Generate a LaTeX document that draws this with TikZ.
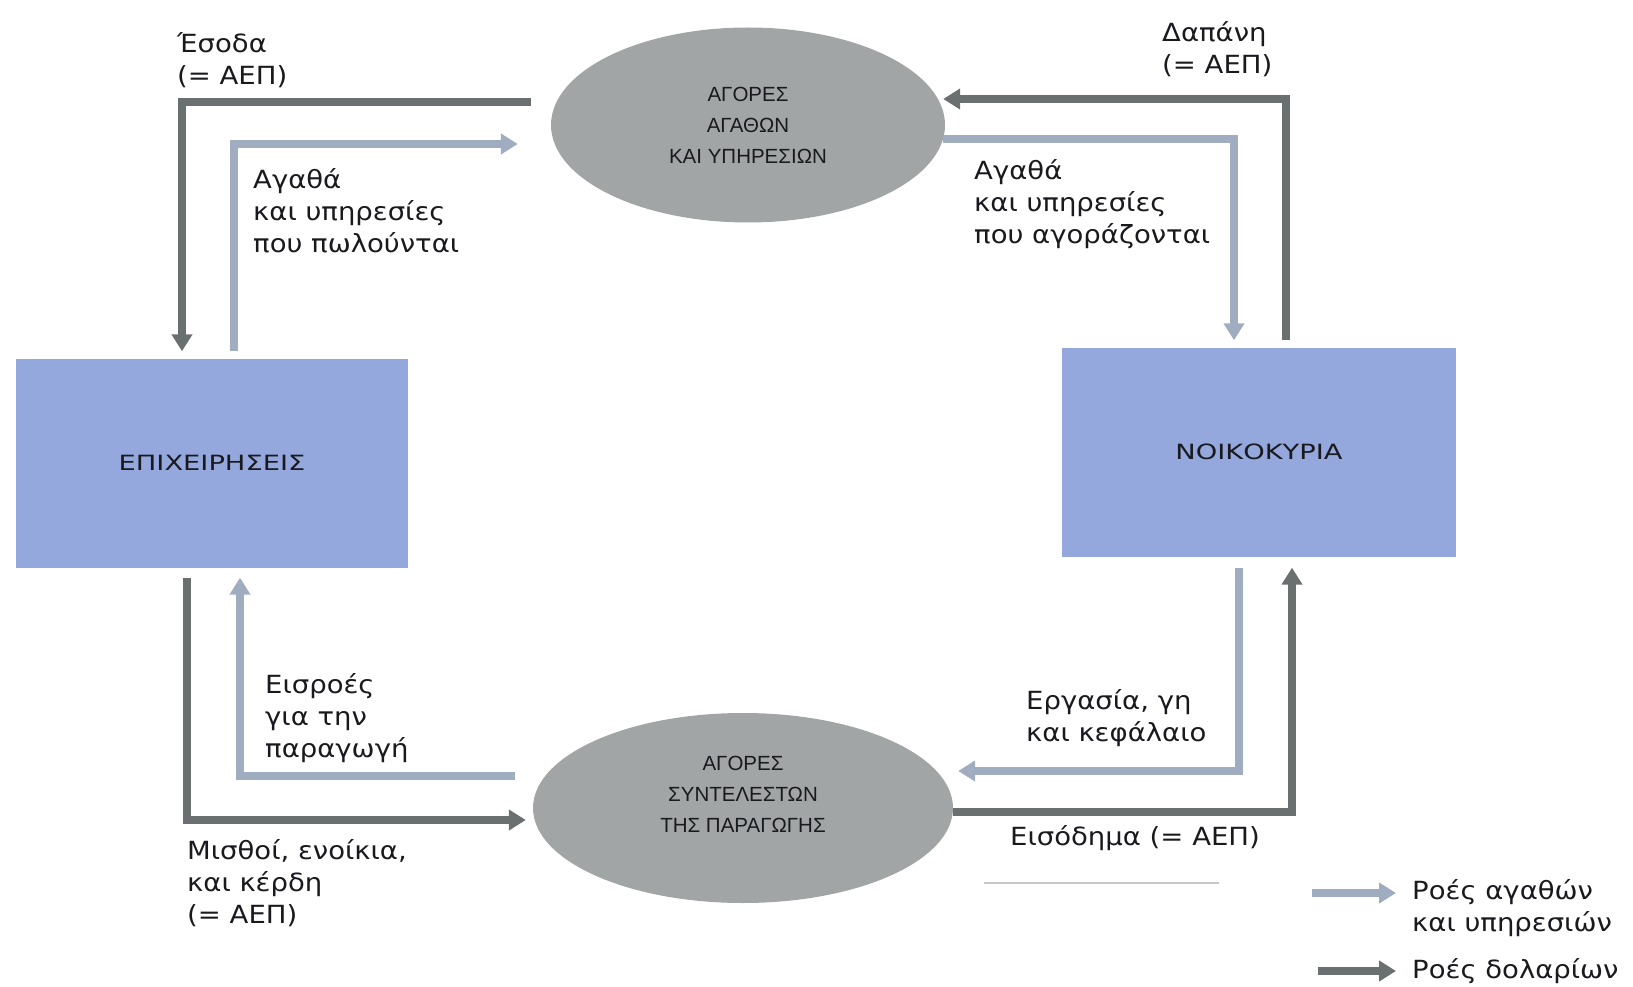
\documentclass[tikz,border=0pt]{standalone}
\usepackage{fontspec}
\setmainfont{DejaVu Sans}[FakeStretch=1.1]
\newfontfamily\capsfont{Liberation Sans}
\newfontfamily\widefont{DejaVu Sans}[FakeStretch=1.3]
\usepackage{xcolor}
\usetikzlibrary{shapes,shapes.geometric}
\usetikzlibrary{arrows.meta}
\usetikzlibrary{positioning}
\definecolor{boxblue}{RGB}{148,168,221}
\definecolor{marketgray}{RGB}{162,165,165}
\definecolor{dollargray}{RGB}{106,111,111}
\definecolor{goodsgray}{RGB}{160,172,192}
\definecolor{inktext}{RGB}{25,25,30}

\begin{document}
\begin{tikzpicture}[x=1pt,y=-1pt]
\tikzset{sector/.style={rectangle,fill=boxblue,minimum width=392pt,minimum height=209pt,font=\widefont\fontsize{21}{24}\selectfont,text=inktext},
market/.style={ellipse,fill=marketgray,minimum width=394pt,minimum height=195pt,align=center,font=\capsfont\fontsize{20.5}{31}\selectfont,text=inktext},
flowlabel/.style={align=left,anchor=west,inner sep=0pt,font=\fontsize{25}{32}\selectfont,text=inktext},
dollarflow/.style={draw=dollargray,line width=8pt,-{Triangle[width=20pt,length=17pt]}},
goodsflow/.style={draw=goodsgray,line width=8pt,-{Triangle[width=20pt,length=17pt]}}}
\useasboundingbox (0,0) rectangle (1633,987);
\node[sector](firms) at (212,463){ΕΠΙΧΕΙΡΗΣΕΙΣ};
\node[sector,minimum width=394pt](homes) at (1259,452){ΝΟΙΚΟΚΥΡΙΑ};
\node[market](goods) at (748,125){ΑΓΟΡΕΣ\\ΑΓΑΘΩΝ\\ΚΑΙ ΥΠΗΡΕΣΙΩΝ};
\node[market,minimum width=420pt,minimum height=190pt](factors) at (743,808){};
\node[market,fill=none,inner sep=0pt](factorsname) at ([yshift=14pt]factors.center){ΑΓΟΡΕΣ\\ΣΥΝΤΕΛΕΣΤΩΝ\\ΤΗΣ ΠΑΡΑΓΩΓΗΣ};
\draw[dollarflow]([yshift=23pt,xshift=-20pt]goods.west) -| ([xshift=-30pt,yshift=7pt]firms.north);
\draw[goodsflow]([xshift=22pt,yshift=7pt]firms.north) |- ([yshift=-19pt,xshift=-33pt]goods.west);
\draw[dollarflow]([xshift=27pt,yshift=7pt]homes.north) |- ([yshift=26pt,xshift=-2pt]goods.east);
\draw[goodsflow]([yshift=-14pt,xshift=-2pt]goods.east) -| ([xshift=-25pt,yshift=7pt]homes.north);
\draw[goodsflow]([xshift=-20pt,yshift=-11pt]homes.south) |- ([yshift=37pt,xshift=5pt]factors.east);
\draw[dollarflow]([yshift=-4pt]factors.east) -| ([xshift=33pt,yshift=-11pt]homes.south);
\draw[goodsflow]([yshift=32pt,xshift=-18pt]factors.west) -| ([xshift=28pt,yshift=-10pt]firms.south);
\draw[dollarflow]([xshift=-25pt,yshift=-10pt]firms.south) |- ([yshift=-12pt,xshift=-7pt]factors.west);
\node[flowlabel](income) at (177,60){Έσοδα\\(= ΑΕΠ)};
\node[flowlabel](sold) at (253,211){Αγαθά\\και υπηρεσίες\\που πωλούνται};
\node[flowlabel](spending) at (1162,49){Δαπάνη\\(= ΑΕΠ)};
\node[flowlabel](bought) at (974,204){Αγαθά\\και υπηρεσίες\\που αγοράζονται};
\node[flowlabel](labour) at (1026,718){Εργασία, γη\\και κεφάλαιο};
\node[flowlabel](earnings) at (1010,838){Εισόδημα (= ΑΕΠ)};
\node[flowlabel](inputs) at (265,718){Εισροές\\για την\\παραγωγή};
\node[flowlabel](wages) at (187,883){Μισθοί, ενοίκια,\\και κέρδη\\(= ΑΕΠ)};
\draw[gray!45,line width=1.5pt](984,883) -- (1219,883);
\node[flowlabel](keygoods) at (1412,908){Ροές αγαθών\\και υπηρεσιών};
\node[flowlabel](keydollar) at (1412,971){Ροές δολαρίων};
\coordinate (keygoodstail) at (1312,893);
\coordinate (keydollartail) at (1318,971);
\draw[goodsflow,shorten >=16pt](keygoodstail) -- (keygoodstail -| keygoods.west);
\draw[dollarflow,shorten >=16pt](keydollartail) -- (keydollar.west);
\end{tikzpicture}
\end{document}
